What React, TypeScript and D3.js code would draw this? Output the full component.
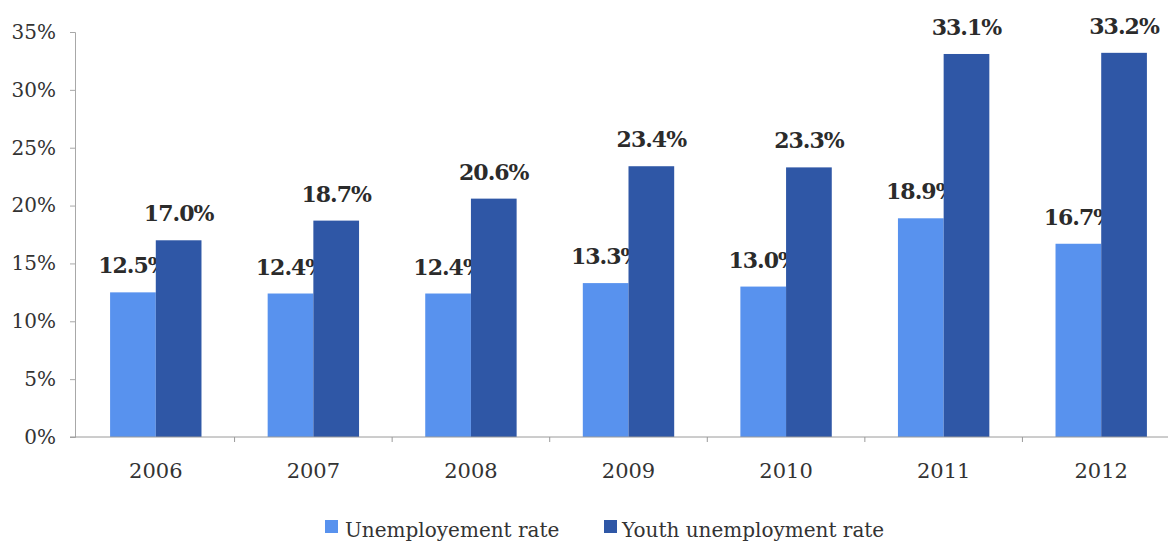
import { useRef, useEffect } from 'react';
import * as d3 from 'd3';

const years = ['2006', '2007', '2008', '2009', '2010', '2011', '2012'];
const unemployment = [12.5, 12.4, 12.4, 13.3, 13.0, 18.9, 16.7];
const youthUnemployment = [17.0, 18.7, 20.6, 23.4, 23.3, 33.1, 33.2];
const yTicks = [0, 5, 10, 15, 20, 25, 30, 35];
const seriesNames = ['Unemployement rate', 'Youth unemployment rate'];

const WIDTH = 1168;
const HEIGHT = 543;
const LIGHT = '#5892ee';
const DARK = '#2f57a6';
const FONT = "'DejaVu Serif', serif";

export default function App() {
  const svgRef = useRef<SVGSVGElement>(null);

  useEffect(() => {
    if (!svgRef.current) return;
    const svg = d3.select(svgRef.current);
    svg.selectAll('*').remove();

    const left = 75;
    const bottom = 437;
    const top = 32;

    // Scales
    const xScale = d3.scaleBand<string>()
      .domain(years)
      .range([77, 1180])
      .paddingInner(0.42)
      .paddingOuter(0.21);

    const yScale = d3.scaleLinear()
      .domain([0, 35])
      .range([bottom, top]);

    const barW = xScale.bandwidth() / 2;

    // Y axis
    const yAxis = svg.append('g')
      .attr('transform', `translate(${left},0)`)
      .call(d3.axisLeft(yScale)
        .tickValues(yTicks)
        .tickSize(5)
        .tickPadding(14)
        .tickFormat(d => `${d}%`));
    yAxis.attr('font-family', null);
    yAxis.select('.domain').attr('stroke', '#a8a8a8');
    yAxis.selectAll('.tick line').attr('stroke', '#a8a8a8');
    yAxis.selectAll('.tick text')
      .style('font-family', FONT)
      .attr('font-size', 20)
      .attr('fill', '#333');

    // Bars
    const groups = svg.append('g')
      .selectAll('g')
      .data(years)
      .join('g')
      .attr('transform', d => `translate(${xScale(d)},0)`);

    groups.append('rect')
      .attr('x', 0)
      .attr('y', (_, i) => yScale(unemployment[i]))
      .attr('width', barW)
      .attr('height', (_, i) => bottom - yScale(unemployment[i]))
      .attr('fill', LIGHT);

    groups.append('text')
      .attr('x', barW / 2)
      .attr('y', (_, i) => yScale(unemployment[i]) - 19)
      .attr('text-anchor', 'middle')
      .style('font-family', FONT)
      .attr('font-size', 22)
      .attr('font-weight', 'bold')
      .attr('fill', '#2b2b2b')
      .attr('letter-spacing', -1)
      .text((_, i) => `${unemployment[i].toFixed(1)}%`);

    groups.append('rect')
      .attr('x', barW)
      .attr('y', (_, i) => yScale(youthUnemployment[i]))
      .attr('width', barW)
      .attr('height', (_, i) => bottom - yScale(youthUnemployment[i]))
      .attr('fill', DARK);

    groups.append('text')
      .attr('x', barW * 1.5)
      .attr('y', (_, i) => yScale(youthUnemployment[i]) - 19)
      .attr('text-anchor', 'middle')
      .style('font-family', FONT)
      .attr('font-size', 22)
      .attr('font-weight', 'bold')
      .attr('fill', '#2b2b2b')
      .attr('letter-spacing', -1)
      .text((_, i) => `${youthUnemployment[i].toFixed(1)}%`);

    // X axis
    const xAxis = svg.append('g')
      .attr('transform', `translate(0,${bottom})`)
      .call(d3.axisBottom(xScale).tickSize(0).tickPadding(26));
    xAxis.attr('font-family', null);
    xAxis.select('.domain').remove();
    xAxis.append('line')
      .attr('x1', left - 5)
      .attr('x2', WIDTH)
      .attr('stroke', '#9a9a9a');
    xAxis.selectAll('.boundary')
      .data(years)
      .join('line')
      .attr('class', 'boundary')
      .attr('x1', d => (xScale(d) ?? 0) + xScale.bandwidth() + xScale.step() * 0.21)
      .attr('x2', d => (xScale(d) ?? 0) + xScale.bandwidth() + xScale.step() * 0.21)
      .attr('y1', 0)
      .attr('y2', 5)
      .attr('stroke', '#9a9a9a');
    xAxis.selectAll('.tick text')
      .style('font-family', FONT)
      .attr('font-size', 21)
      .attr('fill', '#333');

    // Legend
    const legend = svg.append('g').attr('transform', 'translate(0,537)');
    const items = [
      { name: seriesNames[0], color: LIGHT, x: 325, tx: 345 },
      { name: seriesNames[1], color: DARK, x: 604, tx: 622 },
    ];
    const li = legend.selectAll('g').data(items).join('g');
    li.append('rect')
      .attr('x', d => d.x)
      .attr('y', -17)
      .attr('width', 13)
      .attr('height', 13)
      .attr('fill', d => d.color);
    li.append('text')
      .attr('x', d => d.tx)
      .attr('y', 0)
      .style('font-family', FONT)
      .attr('font-size', 20)
      .attr('fill', '#333')
      .text(d => d.name);
  }, []);

  return (
    <div style={{ position: 'absolute', left: 0, top: 0, background: '#fff' }}>
      <svg ref={svgRef} width={WIDTH} height={HEIGHT} style={{ display: 'block' }} />
    </div>
  );
}
